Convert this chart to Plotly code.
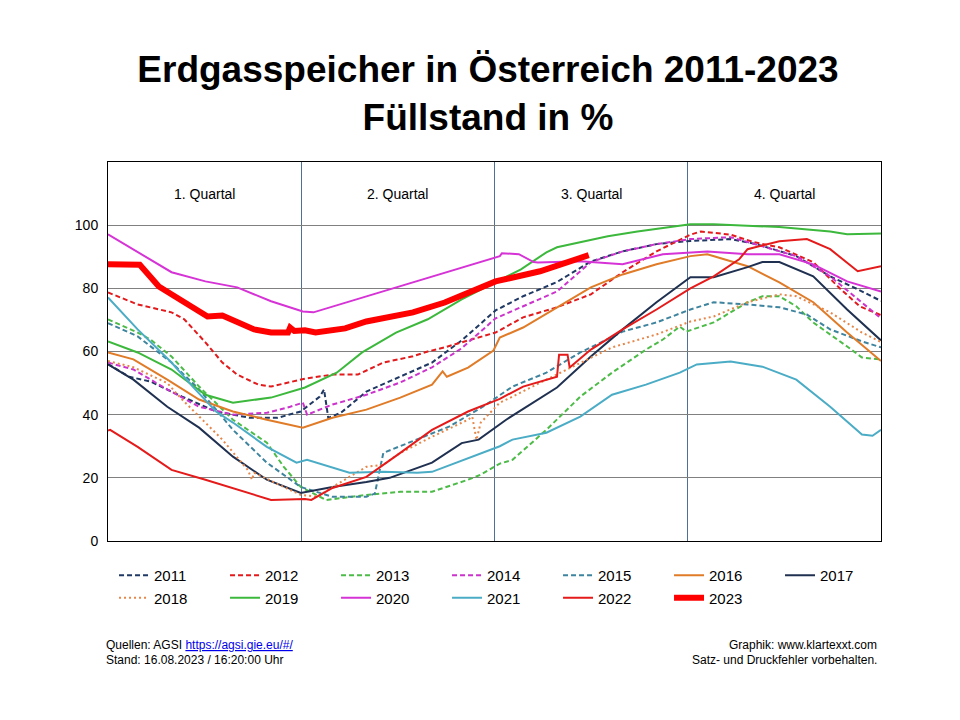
import plotly.graph_objects as go

# ---------------- data (day of year, fill level %) ----------------
years = ["2011", "2012", "2013", "2014", "2015", "2016", "2017",
         "2018", "2019", "2020", "2021", "2022", "2023"]

d2011 = [0, 10, 20, 35, 51, 67, 80, 91, 100, 102, 104, 110, 122, 138, 153, 167, 183, 196, 212, 228, 243, 259, 275, 294, 306, 325, 341, 354, 365]
v2011 = [56, 52, 50.5, 45.7, 41, 39, 39, 41, 45.7, 48, 39, 40.6, 47.3, 52, 56.5, 63.5, 73, 77.5, 82, 88.5, 91.7, 94, 95, 95.6, 94, 90.2, 83.8, 79.7, 76]

d2012 = [0, 14, 30, 36, 46, 54, 61, 71, 77, 93, 106, 118, 130, 144, 151, 160, 170, 183, 196, 212, 228, 243, 259, 275, 280, 294, 305, 317, 333, 346, 355, 365]
v2012 = [78.7, 74.9, 72.4, 70.2, 62.9, 56.5, 52.7, 49.5, 48.9, 51.4, 52.7, 52.7, 56.5, 58.5, 60, 61.5, 63.5, 66, 70.8, 74, 78.1, 85.1, 91.7, 97, 98, 97, 94.6, 93, 88.3, 79.7, 74.3, 71.5]

d2013 = [0, 14, 20, 30, 43, 59, 75, 83, 91, 103, 122, 138, 153, 170, 176, 185, 191, 207, 223, 238, 254, 262, 270, 273, 286, 302, 309, 317, 325, 333, 349, 356, 365]
v2013 = [70.2, 66, 63.8, 58.4, 48.9, 38.4, 31.1, 23.5, 17.1, 13, 14.6, 15.6, 15.6, 19.4, 21, 24.5, 25.7, 35.2, 45.7, 53.3, 60.6, 63.8, 67.9, 66.3, 69.2, 75.6, 77.5, 77.5, 74.3, 69.2, 61.6, 58.1, 57.5]

d2014 = [0, 12, 28, 43, 59, 75, 86, 92, 94, 106, 122, 138, 153, 167, 183, 196, 212, 228, 243, 259, 275, 294, 309, 325, 341, 354, 365]
v2014 = [56.5, 54.3, 48, 42.5, 40, 40.6, 42.5, 43.8, 40, 43.2, 46.3, 50.2, 55, 61, 70.5, 74.3, 79, 88.3, 91.7, 94, 95.6, 96.2, 93.3, 90.2, 83.8, 76.5, 70.5]

d2015 = [0, 14, 30, 43, 59, 75, 91, 106, 122, 126, 130, 146, 161, 177, 191, 207, 223, 228, 243, 259, 275, 286, 302, 317, 330, 341, 356, 365]
v2015 = [69, 64.8, 56.5, 48, 35.2, 24.8, 17.1, 14, 14, 15, 27.9, 32.1, 36.2, 42.5, 48.9, 53.3, 59.7, 61.3, 66.3, 69.2, 73.3, 75.6, 74.9, 74, 71.7, 67, 63.2, 61.3]

d2016 = [0, 12, 28, 43, 59, 75, 92, 106, 122, 138, 153, 158, 160, 170, 182, 185, 196, 212, 228, 243, 259, 275, 283, 302, 317, 333, 349, 365]
v2016 = [59.7, 57.5, 51.1, 44.8, 41, 38.4, 35.9, 39, 41.6, 45.4, 49.5, 53.7, 52, 54.9, 60.3, 64.4, 67.6, 74, 80.3, 84.4, 87.6, 90.2, 90.8, 87, 81.9, 75.6, 66, 57]

d2017 = [0, 12, 28, 43, 59, 75, 91, 106, 122, 133, 153, 167, 175, 183, 188, 212, 228, 243, 259, 275, 286, 302, 309, 317, 333, 349, 365]
v2017 = [55.9, 51.1, 42.5, 35.9, 26.7, 19.4, 15.2, 17.1, 18.7, 20, 24.8, 31, 32.1, 35.9, 38.4, 48.6, 58.4, 67, 75.6, 83.5, 83.5, 86.7, 88.3, 88.3, 83.8, 73.3, 63.5]

d2018 = [0, 12, 28, 35, 54, 66, 68, 69, 83, 91, 99, 106, 122, 130, 138, 153, 170, 172, 174, 176, 185, 191, 207, 223, 238, 259, 275, 286, 302, 317, 325, 341, 356, 365]
v2018 = [57, 55, 50, 44.8, 32.1, 22.5, 19.4, 21.6, 17.1, 14.6, 14, 17.1, 23.5, 24.1, 27.9, 33, 38.4, 39.4, 32, 37.5, 43.8, 45.7, 51.1, 56.5, 61.3, 65.4, 69.5, 71.1, 75.6, 78.1, 77.5, 72.4, 66, 63]

d2019 = [0, 14, 30, 46, 59, 77, 93, 108, 120, 136, 151, 167, 183, 195, 207, 212, 236, 250, 275, 286, 317, 341, 349, 365]
v2019 = [63.2, 59.7, 54.3, 46.3, 43.8, 45.4, 48.6, 53.3, 59.7, 66, 70.2, 76.5, 82, 86, 91.4, 93, 96.5, 98, 100.3, 100.3, 99.4, 98, 97.1, 97.4]

d2020 = [0, 30, 46, 61, 77, 92, 97, 138, 185, 186, 194, 201, 203, 223, 243, 262, 283, 302, 317, 333, 349, 365]
v2020 = [97.1, 85.1, 82.2, 80.3, 75.9, 72.7, 72.4, 80.6, 90.2, 91.1, 90.8, 88.3, 88.2, 88.6, 87.6, 90.8, 91.7, 90.8, 90.8, 87.6, 82.2, 79]

d2021 = [0, 14, 30, 40, 51, 59, 75, 89, 94, 106, 114, 130, 146, 153, 170, 185, 191, 207, 223, 238, 254, 270, 278, 294, 309, 325, 341, 356, 361, 365]
v2021 = [77.1, 67, 56.5, 48.9, 41, 37.5, 29.8, 24.8, 25.7, 23.2, 21.6, 21.9, 21.6, 21.9, 26.3, 30, 32.1, 34.3, 39.4, 46.3, 49.5, 53.3, 55.9, 56.8, 55.2, 51.1, 42.5, 33.7, 33.3, 35.2]

d2022 = [0, 1, 14, 30, 46, 61, 77, 93, 96, 106, 122, 138, 153, 170, 185, 196, 212, 213, 217, 218, 228, 243, 259, 275, 286, 298, 302, 317, 330, 341, 354, 365]
v2022 = [35, 35.2, 29.8, 22.5, 19.4, 16.2, 13, 13.3, 13, 16.8, 20.3, 27.9, 35.2, 41, 45, 48.9, 52, 59, 59, 54.9, 60.6, 67, 73.3, 80, 83.8, 89.2, 92.4, 94.9, 95.6, 92.4, 85.4, 87]

d2023 = [0, 15, 24, 35, 47, 54, 61, 69, 77, 85, 86, 88, 93, 98, 112, 122, 144, 159, 183, 204, 227]
v2023 = [87.6, 87.5, 80.6, 75.9, 71.1, 71.4, 69.5, 67, 66, 66, 67.6, 66.5, 66.7, 66, 67.3, 69.5, 72.4, 75.5, 82.2, 85.4, 90.5]

quarter_labels = ["1. Quartal", "2. Quartal", "3. Quartal", "4. Quartal"]
y_ticks = [0, 20, 40, 60, 80, 100]

# ---------------- styles ----------------
series = {
    "2011": (d2011, v2011, "#1F3864", "5px,3px", 2),
    "2012": (d2012, v2012, "#E31A1C", "5px,3px", 2),
    "2013": (d2013, v2013, "#4CBB47", "5px,3px", 2),
    "2014": (d2014, v2014, "#CC33CC", "5px,3px", 2),
    "2015": (d2015, v2015, "#3E849E", "5px,3px", 2),
    "2016": (d2016, v2016, "#E07B28", "solid", 2),
    "2017": (d2017, v2017, "#1F3050", "solid", 2),
    "2018": (d2018, v2018, "#E6874A", "2px,3px", 2),
    "2019": (d2019, v2019, "#3CB83C", "solid", 2),
    "2020": (d2020, v2020, "#D633D6", "solid", 2),
    "2021": (d2021, v2021, "#4BACC6", "solid", 2),
    "2022": (d2022, v2022, "#E51A1A", "solid", 2),
    "2023": (d2023, v2023, "#FF0000", "solid", 6),
}

FONT = "Liberation Sans, Arial, sans-serif"
NARROW = "Liberation Sans Narrow, Liberation Sans, Arial, sans-serif"

fig = go.Figure()
for y in years:
    d, v, c, dash, w = series[y]
    fig.add_trace(go.Scatter(x=d, y=v, mode="lines", name=y,
                             line=dict(color=c, width=w, dash=dash)))

q_len = 365 / 4
for i, lab in enumerate(quarter_labels):
    fig.add_annotation(x=q_len * (i + 0.5), y=110, xref="x", yref="y",
                       text=lab, showarrow=False,
                       font=dict(family=FONT, size=14, color="#000000"))

# footer
foot = [
    (-0.005, -0.274, "left", "Quellen: AGSI <a href='https://agsi.gie.eu/#/'><span style='color:#0000EE'><u>https://agsi.gie.eu/#/</u></span></a>"),
    (-0.005, -0.314, "left", "Stand: 16.08.2023 / 16:20:00 Uhr"),
    (0.998, -0.274, "right", "Graphik: www.klartexxt.com"),
    (0.998, -0.314, "right", "Satz- und Druckfehler vorbehalten."),
]
for x, y, anc, t in foot:
    fig.add_annotation(x=x, y=y, xref="paper", yref="paper", text=t,
                       showarrow=False, xanchor=anc, yanchor="middle",
                       font=dict(family=NARROW, size=12, color="#000000"))

fig.update_layout(
    width=960, height=720,
    margin=dict(l=100, r=87, t=154, b=187),
    paper_bgcolor="white", plot_bgcolor="white",
    title=dict(text="<b>Erdgasspeicher in Österreich 2011-2023<br>Füllstand in %</b>",
               x=0.5, xanchor="center", y=1 - 74 / 720, yanchor="top",
               font=dict(family=FONT, size=37, color="#000000")),
    showlegend=True,
    legend=dict(orientation="h", x=0.0078, xanchor="left", y=-0.0475, yanchor="top",
                entrywidth=66, entrywidthmode="pixels", itemwidth=30,
                font=dict(family=NARROW, size=15, color="#000000"),
                bgcolor="rgba(0,0,0,0)", tracegroupgap=0),
    xaxis=dict(range=[0, 365], tickvals=[q_len, 2 * q_len, 3 * q_len],
               showticklabels=False, ticks="", showgrid=True,
               gridcolor="#4F7096", gridwidth=1, zeroline=False,
               showline=True, linecolor="#000000", linewidth=1, mirror=True),
    yaxis=dict(range=[0, 120], tickvals=y_ticks, showgrid=True,
               gridcolor="#808080", gridwidth=1, zeroline=False,
               showline=True, linecolor="#000000", linewidth=1, mirror=True,
               ticks="", ticklabelstandoff=6,
               tickfont=dict(family=FONT, size=14, color="#000000")),
)

fig.write_html("out.html")
